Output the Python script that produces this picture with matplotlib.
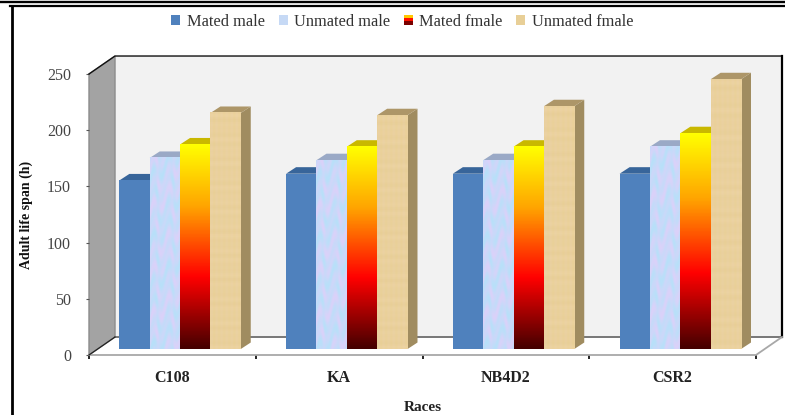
import numpy as np
import matplotlib
matplotlib.use("Agg")
import matplotlib.pyplot as plt
from matplotlib.colors import LinearSegmentedColormap
from matplotlib.legend_handler import HandlerPatch
from matplotlib.lines import Line2D
from matplotlib.patches import Patch, Polygon, Rectangle

races = ["C108", "KA", "NB4D2", "CSR2"]
series_names = ["Mated male", "Unmated male", "Mated fmale", "Unmated fmale"]
mated_male = [150, 156, 156, 156]
unmated_male = [170, 168, 168, 180]
mated_fmale = [182, 180, 180, 192]
unmated_fmale = [210, 208, 216, 240]
y_ticks = [0, 50, 100, 150, 200, 250]

plt.rcParams["font.family"] = ["Liberation Serif", "DejaVu Serif"]

W, H = 785, 415
fig = plt.figure(figsize=(W / 100, H / 100), dpi=100)
fig.patch.set_facecolor("white")
# plot region: front floor edge in pixels
ax = fig.add_axes([89 / W, 1 - 355 / H, 667 / W, 281 / H])
ax.patch.set_visible(False)
for s in ax.spines.values():
    s.set_visible(False)

# depth of the fake 3d box and of the bars, in data units
wall_dx, wall_dy = 0.156, 16
bar_dx, bar_dy = 0.06, 5.8
bar_w = 0.182
first_x = 0.182
base_y = 5.3

grad = LinearSegmentedColormap.from_list(
    "fire", [(0, "#ffff00"), (0.3, "#ffa500"), (0.65, "#ff0000"), (1, "#450000")])


def blue_tex(n=120, m=30):
    yy, xx = np.mgrid[0:n, 0:m]
    v = np.sin(yy / 3.1 + np.sin(xx / 2.3) * 2.2) * np.sin(xx / 3.7 + yy / 7.0) * 0.5 + 0.5
    c = np.zeros((n, m, 3))
    c[..., 0] = 0.72 + 0.14 * v
    c[..., 1] = 0.88 - 0.06 * v
    c[..., 2] = 0.98
    return c


def tan_tex(n=140, m=30):
    yy, xx = np.mgrid[0:n, 0:m]
    v = np.sin(yy * 1.1) * np.sin(yy * 0.23 + 1) * 0.5 + 0.5
    c = np.zeros((n, m, 3))
    c[..., 0] = 0.91 + 0.015 * v
    c[..., 1] = 0.81 + 0.015 * v
    c[..., 2] = 0.60 + 0.03 * v + 0.015 * np.sin(xx * 1.3)
    return c


def fill_face(x, top, style, z):
    ext = (x, x + bar_w, base_y, top)
    if style == "blue":
        ax.add_patch(Rectangle((x, base_y), bar_w, top - base_y, fc="#4f81bd", ec="none",
                               zorder=z, clip_on=False))
    elif style == "tex":
        ax.imshow(blue_tex(), extent=ext, aspect="auto", zorder=z, clip_on=False)
    elif style == "fire":
        g = np.linspace(0, 1, 200).reshape(-1, 1)
        ax.imshow(g, cmap=grad, extent=ext, aspect="auto", zorder=z, clip_on=False)
    else:
        ax.imshow(tan_tex(), extent=ext, aspect="auto", zorder=z, clip_on=False)


def bar3d(x, val, style, top_col, side_col, z):
    top = base_y + val
    ax.add_patch(Polygon([(x + bar_w, base_y), (x + bar_w + bar_dx, base_y + bar_dy),
                          (x + bar_w + bar_dx, top + bar_dy), (x + bar_w, top)],
                         fc=side_col, ec="none", zorder=z, clip_on=False))
    ax.add_patch(Polygon([(x, top), (x + bar_w, top), (x + bar_w + bar_dx, top + bar_dy),
                          (x + bar_dx, top + bar_dy)],
                         fc=top_col, ec="none", zorder=z, clip_on=False))
    fill_face(x, top, style, z + 0.1)


# walls
ax.add_patch(Polygon([(wall_dx, wall_dy), (4 + wall_dx, wall_dy), (4 + wall_dx, 250 + wall_dy),
                      (wall_dx, 250 + wall_dy)], fc="#f2f2f2", ec="none", zorder=1, clip_on=False))
ax.add_patch(Polygon([(0, 0), (wall_dx, wall_dy), (wall_dx, 250 + wall_dy), (0, 250)],
                     fc="#a3a3a3", ec="#8c8c8c", lw=1, zorder=1.5, clip_on=False))
# box edges
ax.plot([0, wall_dx, 4 + wall_dx], [250, 250 + wall_dy, 250 + wall_dy], color="#111111", lw=1,
        zorder=2, clip_on=False)
ax.plot([wall_dx, 4 + wall_dx], [wall_dy, wall_dy], color="#777777", lw=1.4, zorder=2, clip_on=False)
ax.plot([4 + wall_dx, 4 + wall_dx], [wall_dy, 250 + wall_dy], color="black", lw=1.6, zorder=2,
        clip_on=False)
ax.plot([0, 4, 4 + wall_dx], [0, 0, wall_dy], color="#a8a8a8", lw=1.3, zorder=2, clip_on=False)
ax.plot([0, wall_dx], [0, wall_dy], color="#222222", lw=0.9, zorder=2, clip_on=False)

series = [mated_male, unmated_male, mated_fmale, unmated_fmale]
styles = ["blue", "tex", "fire", "wood"]
top_cols = ["#38659a", "#9aa9c6", "#c9b800", "#ad9668"]
side_cols = ["#3a6597", "#93a4c0", "#bfa900", "#a08c60"]
z = 5
for g in range(len(races)):
    for k in range(4):
        bar3d(g + first_x + k * bar_w, series[k][g], styles[k], top_cols[k], side_cols[k], z)
        z += 1

ax.set_xlim(0, 4)
ax.set_ylim(0, 250)
ax.set_yticks(y_ticks)
ax.tick_params(axis="y", length=2, color="#555555", labelcolor="#444444", labelsize=11.5, pad=11)
ax.set_xticks(range(5))
ax.set_xticks(np.arange(4) + 0.5, races, minor=True)
ax.tick_params(axis="x", which="major", length=3, width=1.2, color="black", labelbottom=False)
ax.tick_params(axis="x", which="minor", length=0, pad=11, labelsize=11.5, labelcolor="#222222")
for t in ax.get_xticklabels(minor=True):
    t.set_fontweight("bold")

ax.set_xlabel("Races", fontweight="bold", fontsize=11, color="#222222")
ax.xaxis.set_label_coords(0.5, -52 / 281)
ax.xaxis.label.set_va("center")
ax.set_ylabel("Adult life span (h)", fontweight="bold", fontsize=10, color="#111111")
ax.yaxis.set_label_coords(-63 / 667, 140 / 281)
ax.yaxis.label.set_va("center")


class FireHandler(HandlerPatch):
    def create_artists(self, legend, orig_handle, xd, yd, width, height, fontsize, trans):
        cols = ["#ffc800", "#ff1000", "#7a0000"]
        out = []
        for i, c in enumerate(cols):
            out.append(Rectangle((-xd, -yd + height * (2 - i) / 3), width, height / 3,
                                 fc=c, ec="none", transform=trans))
        return out


fire_patch = Patch(fc="#ff1000")
handles = [Patch(fc="#4f81bd"), Patch(fc="#c6d9f5"), fire_patch, Patch(fc="#e8cf97")]
leg = fig.legend(handles, series_names, loc="center", bbox_to_anchor=(402.5 / W, 1 - 21.5 / H), ncol=4,
                 frameon=False, fontsize=11.8, handlelength=0.55, handleheight=0.55, handletextpad=0.4,
                 columnspacing=0.83, labelcolor="#333333", handler_map={fire_patch: FireHandler()})

# page frame
def page_line(xs, ys, lw):
    fig.add_artist(Line2D([x / W for x in xs], [1 - y / H for y in ys], color="black", lw=lw,
                          transform=fig.transFigure))


page_line([0, W], [2.2, 2.2], 1.7)
page_line([10, W], [6.2, 6.2], 1.6)
page_line([11.5, 11.5], [6, H], 2.0)

fig.savefig("out.png", dpi=100)
